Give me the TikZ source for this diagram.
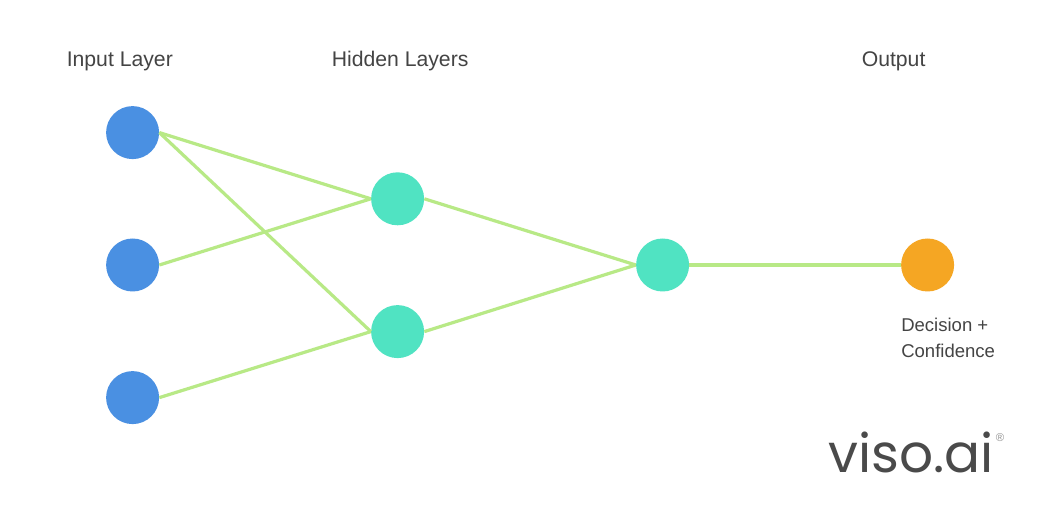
\documentclass[tikz,border=0pt]{standalone}
\usepackage{fontspec}
\setmainfont{Liberation Sans}
\newfontfamily\logofont{Poppins}
\definecolor{inblue}{HTML}{4A90E2}
\definecolor{hidgreen}{HTML}{50E3C2}
\definecolor{outorange}{HTML}{F5A623}
\definecolor{edgegreen}{HTML}{B8E986}
\definecolor{txt}{HTML}{444444}
\definecolor{logogray}{HTML}{4A4A4A}
\tikzset{
  neuron/.style={circle,minimum size=39.75pt,inner sep=0pt,draw=none},
  inneuron/.style={neuron,fill=inblue},
  hidneuron/.style={neuron,fill=hidgreen},
  outneuron/.style={neuron,fill=outorange},
  edge/.style={draw=edgegreen,line width=2.4pt},
  head/.style={text=txt,font=\fontsize{15.9pt}{19pt}\selectfont,inner sep=0pt,anchor=base west},
  small/.style={text=txt,font=\fontsize{13.9pt}{16pt}\selectfont,inner sep=0pt,anchor=base west}
}
\begin{document}
\begin{tikzpicture}[x=0.75pt,y=-0.75pt]
\useasboundingbox[fill=white] (0,0) rectangle (1060,530);
\node[inneuron] (i1) at (132.6,132.6) {};
\node[inneuron] (i2) at (132.6,265) {};
\node[inneuron] (i3) at (132.6,397.6) {};
\node[hidneuron] (h1) at (397.6,198.8) {};
\node[hidneuron] (h2) at (397.6,331.6) {};
\node[hidneuron] (h3) at (662.6,265) {};
\node[outneuron] (o) at (927.6,265) {};
\draw[edge] (i1.east) -- (h1.west);
\draw[edge] (i1.east) -- (h2.west);
\draw[edge] (i2.east) -- (h1.west);
\draw[edge] (i3.east) -- (h2.west);
\draw[edge] (h1.east) -- (h3.west);
\draw[edge] (h2.east) -- (h3.west);
\draw[edge] (h3.east) -- (o.west);
\node[head] (t1) at (66.5,66.6) {Input Layer};
\node[head] (t2) at (331.5,66.6) {Hidden Layers};
\node[head] (t3) at (861.5,66.6) {Output};
\node[small] (t4) at (901,331.6) {Decision +};
\node[small] (t5) at (901,357.6) {Confidence};
\node[text=logogray,font=\logofont\fontsize{40pt}{46pt}\selectfont,inner sep=0pt,anchor=base west] (logo) at (828,473) {viso.ai};
\node[text=logogray!60,font=\fontsize{8.5pt}{9pt}\selectfont,inner sep=0pt] (reg) at (1000,438) {®};
\end{tikzpicture}
\end{document}
